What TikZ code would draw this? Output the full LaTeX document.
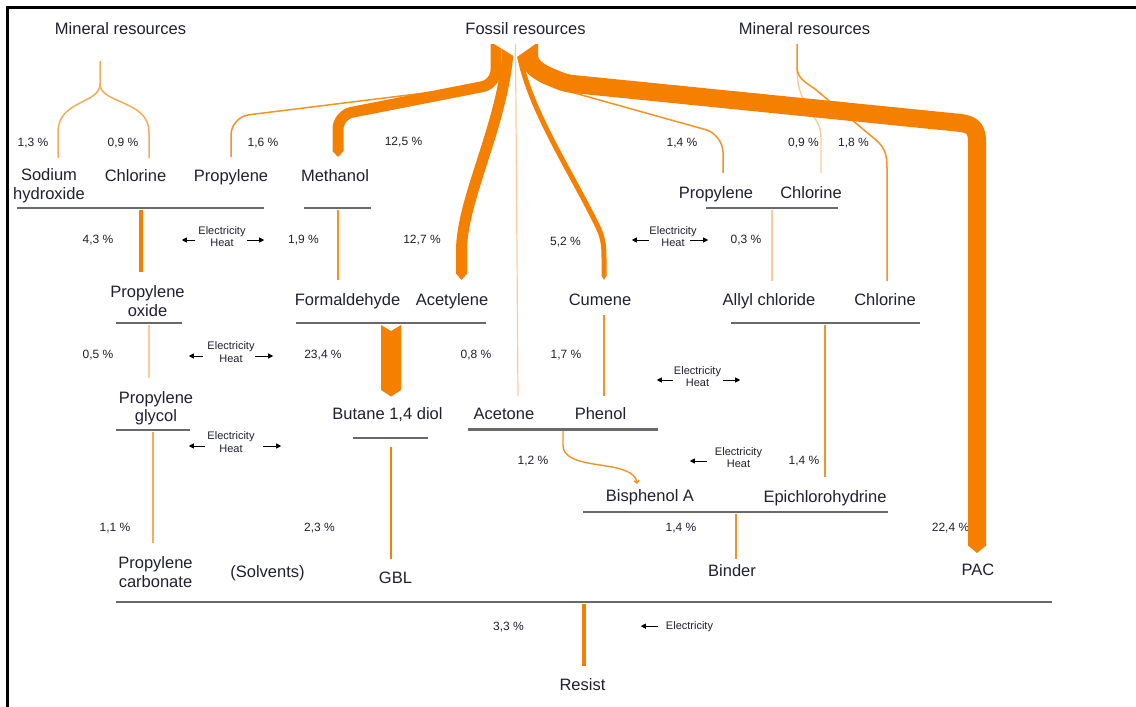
\documentclass[tikz,border=0pt]{standalone}
\usepackage{fontspec}
\setmainfont{Liberation Sans}
\usetikzlibrary{arrows.meta}
\definecolor{flow}{RGB}{245,128,0}
\definecolor{ink}{RGB}{32,32,48}
\definecolor{rule}{RGB}{105,105,105}
\begin{document}
\begin{tikzpicture}[x=1pt,y=-1pt,
  lbl/.style={font=\fontsize{16.5}{18.5}\selectfont, text=ink, inner sep=0pt, anchor=base, yshift=-6pt},
  lbltwo/.style={font=\fontsize{16.5}{18.5}\selectfont, text=ink, inner sep=0pt, align=center},
  pct/.style={font=\fontsize{12}{14}\selectfont, text=ink, inner sep=0pt, anchor=base, yshift=-4.3pt},
  util/.style={font=\fontsize{11}{12.5}\selectfont, text=ink, inner sep=0pt, align=center},
  utilone/.style={font=\fontsize{11}{12.5}\selectfont, text=ink, inner sep=0pt, anchor=base, yshift=-4pt},
  bar/.style={draw=rule, line width=2.2pt},
  band/.style={draw=flow, line cap=butt, line join=round},
  tip/.style={fill=flow},
  thin/.style={draw=flow!85, line width=1.7pt},
  minor/.style={draw=flow!65, line width=1.5pt},
  faint/.style={draw=flow!40, line width=1.4pt},
  ea/.style={-{Triangle[length=5pt,width=5pt]}, line width=0.9pt, draw=black},
]
\useasboundingbox (0,0) rectangle (1136,707);
\fill[white] (0,0) rectangle (1136,707);
% frame
\draw[line width=2.5pt, black] (7.5,707) -- (7.5,7.5) -- (1136,7.5);

% ---------- labels ----------
\node[lbl] (min1) at (120.5,28) {Mineral resources};
\node[lbl] (fos) at (525.5,28) {Fossil resources};
\node[lbl] (min2) at (804.5,28) {Mineral resources};

\node[lbltwo] (naoh) at (49,185.6) {Sodium\\hydroxide};
\node[lbl] (cl1) at (135.5,175) {Chlorine};
\node[lbl] (pr1) at (231,175) {Propylene};
\node[lbl] (meth) at (335,175) {Methanol};
\node[lbl] (pr2) at (716,192) {Propylene};
\node[lbl] (cl2) at (811,192.5) {Chlorine};

\node[lbltwo] (pox) at (147.5,301.1) {Propylene\\oxide};
\node[lbl] (form) at (347.5,299) {Formaldehyde};
\node[lbl] (acet) at (452,299) {Acetylene};
\node[lbl] (cum) at (600,299) {Cumene};
\node[lbl] (allyl) at (769,299.5) {Allyl chloride};
\node[lbl] (cl3) at (885,299.5) {Chlorine};

\node[lbltwo] (pgly) at (156,408) {Propylene\\glycol};
\node[lbl] (bdo) at (387.5,413.5) {Butane 1,4 diol};
\node[lbl] (acetone) at (504,413) {Acetone};
\node[lbl] (phen) at (600.5,413) {Phenol};

\node[lbl] (bpa) at (650,495) {Bisphenol A};
\node[lbl] (epi) at (825,496.5) {Epichlorohydrine};

\node[lbltwo] (pcarb) at (155.5,572) {Propylene\\carbonate};
\node[lbl] (solv) at (267.5,571) {(Solvents)};
\node[lbl] (gbl) at (395.5,577.5) {GBL};
\node[lbl] (bind) at (732,570) {Binder};
\node[lbl] (pac) at (978,569.5) {PAC};
\node[lbl] (resist) at (582.5,684.5) {Resist};

% ---------- percentages ----------
\node[pct] (p1) at (33,142) {1,3 \%};
\node[pct] (p2) at (123,142) {0,9 \%};
\node[pct] (p3) at (263,142) {1,6 \%};
\node[pct] (p4) at (403.5,141) {12,5 \%};
\node[pct] (p5) at (682,142) {1,4 \%};
\node[pct] (p6) at (803.5,142) {0,9 \%};
\node[pct] (p7) at (853.5,142) {1,8 \%};
\node[pct] (p8) at (98,239) {4,3 \%};
\node[pct] (p9) at (303.5,239) {1,9 \%};
\node[pct] (p10) at (422,239) {12,7 \%};
\node[pct] (p11) at (565.5,241) {5,2 \%};
\node[pct] (p12) at (746,239) {0,3 \%};
\node[pct] (p13) at (98,354) {0,5 \%};
\node[pct] (p14) at (323,354) {23,4 \%};
\node[pct] (p15) at (476,354) {0,8 \%};
\node[pct] (p16) at (566,354) {1,7 \%};
\node[pct] (p17) at (533,460) {1,2 \%};
\node[pct] (p18) at (804,460) {1,4 \%};
\node[pct] (p19) at (115,527) {1,1 \%};
\node[pct] (p20) at (319.5,527) {2,3 \%};
\node[pct] (p21) at (681,527) {1,4 \%};
\node[pct] (p22) at (950.5,527) {22,4 \%};
\node[pct] (p23) at (508.5,626) {3,3 \%};

% ---------- energy inputs ----------
\node[util] (eh1) at (222,236.5) {Electricity\\Heat};
\draw[ea] ([shift={(-3.5,3.5)}]eh1.west) -- ++(-13,0);
\draw[ea] ([shift={(1.5,3.5)}]eh1.east) -- ++(17,0);
\node[util] (eh2) at (231,352) {Electricity\\Heat};
\draw[ea] ([shift={(-4.5,4)}]eh2.west) -- ++(-14,0);
\draw[ea] ([shift={(0.5,4)}]eh2.east) -- ++(18,0);
\node[util] (eh3) at (231,442) {Electricity\\Heat};
\draw[ea] ([shift={(-2.5,4)}]eh3.west) -- ++(-16,0);
\draw[ea] ([shift={(8.5,4)}]eh3.east) -- ++(18,0);
\node[util] (eh4) at (673,236.5) {Electricity\\Heat};
\draw[ea] ([shift={(-0.5,3.5)}]eh4.west) -- ++(-17,0);
\draw[ea] ([shift={(-6.5,3.5)}]eh4.east) -- ++(18,0);
\node[util] (eh5) at (697.5,376.5) {Electricity\\Heat};
\draw[ea] ([shift={(-1,3.5)}]eh5.west) -- ++(-16,0);
\draw[ea] ([shift={(2,3.5)}]eh5.east) -- ++(17,0);
\node[util] (eh6) at (738.5,457.5) {Electricity\\Heat};
\draw[ea] ([shift={(-8,3.5)}]eh6.west) -- ++(-17,0);
\node[utilone] (el) at (689.5,625) {Electricity};
\draw[ea] ([shift={(-8,0)}]el.west) -- ++(-17,0);

% ---------- process bars ----------
\draw[bar] (17,208) -- (264,208);
\draw[bar] (304,208) -- (371,208);
\draw[bar] (706,208) -- (838,208);
\draw[bar] (116,323) -- (182,323);
\draw[bar] (296,323) -- (486,323);
\draw[bar] (731,323) -- (920,323);
\draw[bar] (116,430) -- (190,430);
\draw[bar] (353,438) -- (428,438);
\draw[bar] (468,429.5) -- (658,429.5);
\draw[bar] (583,512) -- (888,512);
\draw[bar] (116,602) -- (1052,602);

% ---------- mineral resources, left ----------
\coordinate (m1s) at (100,61);
\coordinate (m1f) at (100,84);
\coordinate (naohin) at (58,158);
\coordinate (cl1in) at (149,158);
\draw[minor] (m1s) -- (m1f) .. controls (100,104) and (58,100) .. (58,132) -- (naohin);
\draw[minor] (m1f) .. controls (100,104) and (149,100) .. (149,132) -- (cl1in);

% ---------- mineral resources, right ----------
\coordinate (m2s) at (797,44);
\coordinate (m2f) at (797,67);
\coordinate (cl2in) at (821,173);
\coordinate (cl3in) at (887,281);
\draw[faint] (m2f) .. controls (797,85) and (800,95) .. (808,107) -- (814,117)
  .. controls (820,126) and (821,130) .. (821,140) -- (cl2in);
\draw[thin, line width=1.5pt] (m2s) -- (m2f) .. controls (797,78) and (805,82) .. (815,89) -- (876,140)
  .. controls (885,148) and (887,155) .. (887,168) -- (cl3in);

% ---------- fossil resources ----------
\coordinate (pr1in) at (231,157);
\coordinate (pr2in) at (723,173);
\draw[thin, line width=1.5pt, rounded corners=18pt] (478,86.4) -- (231,117) -- (pr1in);
\draw[thin, line width=1.5pt, rounded corners=18pt] (560,89) -- (723,134.5) -- (pr2in);

% to methanol
\coordinate (methin) at (338,151);
\draw[band, line width=11pt, rounded corners=14pt] (496,44) -- (496,84) -- (338,115) -- (methin);
\fill[tip] (332.5,151) -- (343.5,151) -- (338,157) -- cycle;
% to acetylene
\coordinate (acetin) at (461.5,274);
\draw[band, line width=11pt] (507.5,44) -- (507.5,58) .. controls (500,130) and (462,200) .. (461.5,250) -- (acetin);
\fill[tip] (456,273.5) -- (467,273.5) -- (461.5,280) -- cycle;
% to cumene
\coordinate (cumin) at (604,276);
\draw[band, line width=5pt] (519.5,44) -- (519.5,56) .. controls (530,110) and (570,170) .. (597,225)
  .. controls (603,237) and (604,245) .. (604,258) -- (cumin);
\fill[tip] (601.5,275.5) -- (606.5,275.5) -- (604,280) -- cycle;
% to PAC
\coordinate (pacin) at (977,546);
\draw[band, line width=18pt] (529,44) -- (529,54) .. controls (529,64) and (535,70) .. (548,76)
  -- (562,81.7) .. controls (566,83) and (568,83.5) .. (575,84.2) -- (958,122.7)
  .. controls (972,124) and (977,128) .. (977,142) -- (pacin);
\fill[tip] (968,545.5) -- (986,545.5) -- (977,553) -- cycle;
% split at the source
\fill[white] (488,40) -- (541,40) -- (516,57.5) -- cycle;
% to acetone
\coordinate (acetonein) at (518,396);
\draw[faint, line width=1.2pt] (515.5,44) -- (acetonein);

% ---------- process chain ----------
\coordinate (a1) at (140.5,210); \coordinate (b1) at (140.5,272);
\draw[band, line width=4pt] (a1) -- (b1);
\coordinate (a2) at (338,210); \coordinate (b2) at (338,280);
\draw[thin] (a2) -- (b2);
\coordinate (a3) at (149,325); \coordinate (b3) at (149,378);
\draw[faint] (a3) -- (b3);
\coordinate (a4) at (153,432); \coordinate (b4) at (153,543);
\draw[minor, line width=2pt] (a4) -- (b4);
% formaldehyde + acetylene to butane diol
\fill[flow] (381,325) -- (391,331) -- (401,325) -- (401,390) -- (391,396.5) -- (381,390) -- cycle;
\coordinate (a5) at (391,447); \coordinate (b5) at (391,559);
\draw[band, line width=2.5pt] (a5) -- (b5);
\coordinate (a6) at (604,315); \coordinate (b6) at (604,396);
\draw[thin] (a6) -- (b6);
\coordinate (a7) at (563,431); \coordinate (b7) at (637,484);
\draw[thin, line width=1.4pt, -{Straight Barb[length=2.5pt,width=5pt]}] (a7) -- (563,445)
  .. controls (563,462) and (590,463) .. (612,467) .. controls (628,470) and (636,475) .. (b7);
\coordinate (a8) at (825,325); \coordinate (b8) at (825,477);
\draw[thin] (a8) -- (b8);
\coordinate (a9) at (736,514); \coordinate (b9) at (736,559);
\draw[thin] (a9) -- (b9);
\coordinate (a10) at (772,210); \coordinate (b10) at (772,281);
\draw[faint] (a10) -- (b10);
\coordinate (a11) at (584,604); \coordinate (b11) at (584,666);
\draw[band, line width=4pt] (a11) -- (b11);
\end{tikzpicture}
\end{document}
